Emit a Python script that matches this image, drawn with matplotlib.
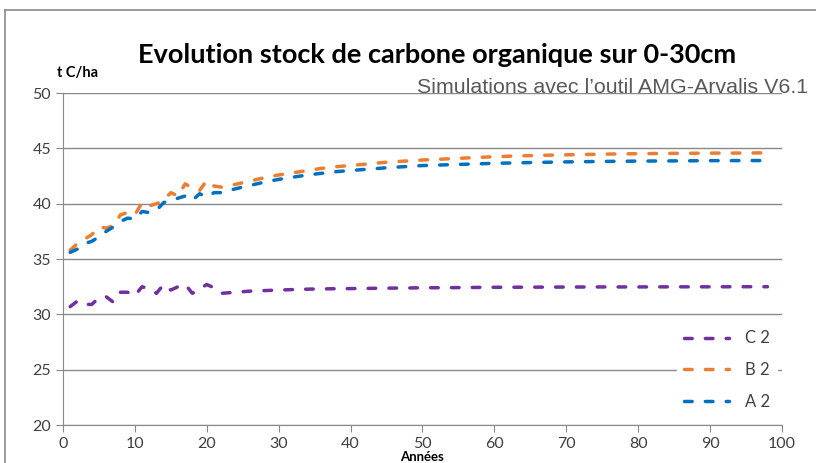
import matplotlib
matplotlib.use("Agg")
import matplotlib.pyplot as plt
from matplotlib.lines import Line2D

# years (annual for the first part, then sampled on the smooth curve)
annees = list(range(1, 22)) + [22, 24, 26, 28, 30, 32, 34, 36, 38, 40, 45, 50,
                                55, 60, 65, 70, 75, 80, 85, 90, 95, 98]

a2 = [35.6, 35.9, 36.4, 36.6, 37.0, 37.5, 37.9, 38.4, 38.7, 38.6, 39.3,
      39.2, 39.4, 40.1, 40.3, 40.5, 40.7, 40.3, 40.9, 40.6, 41.0,
      41.0, 41.35, 41.65, 41.95, 42.2, 42.4, 42.6, 42.75, 42.9, 43.0, 43.25,
      43.45, 43.55, 43.65, 43.72, 43.78, 43.82, 43.85, 43.87, 43.89, 43.9, 43.9]

b2 = [35.8, 36.4, 36.8, 37.2, 37.9, 37.8, 38.0, 39.0, 39.2, 39.0, 40.1,
      39.8, 40.0, 40.3, 41.0, 40.7, 41.8, 41.4, 41.2, 42.1, 41.6,
      41.5, 41.75, 42.05, 42.35, 42.6, 42.8, 43.0, 43.2, 43.35, 43.45, 43.75,
      43.95, 44.1, 44.25, 44.35, 44.42, 44.48, 44.52, 44.55, 44.57, 44.58, 44.6]

c2 = [30.7, 31.2, 30.9, 30.9, 31.5, 31.6, 31.1, 32.0, 32.0, 31.7, 32.5,
      32.3, 31.9, 32.7, 32.2, 32.5, 32.7, 31.9, 32.3, 32.7, 32.4,
      31.9, 32.0, 32.1, 32.15, 32.2, 32.24, 32.28, 32.3, 32.32, 32.33, 32.37,
      32.4, 32.42, 32.45, 32.46, 32.47, 32.48, 32.48, 32.49, 32.49, 32.5, 32.5]

series = [("C 2", c2, "#7030A0"), ("B 2", b2, "#ED7D31"), ("A 2", a2, "#0070C0")]

grey = "#898989"
txt = "#404040"
police = ["Lato", "DejaVu Sans"]
tirets = (2.2, 3.8)

fig = plt.figure(figsize=(8.16, 4.63), dpi=100)
ax = fig.add_axes([0.0772, 0.082, 0.881, 0.717])

for nom, val, col in series:
    ax.plot(annees, val, color=col, lw=2.5, dashes=tirets,
            dash_capstyle="round", label=nom)

ax.set_xlim(0, 100)
ax.set_ylim(20, 50)
ax.set_xticks(range(0, 101, 10))
ax.set_yticks(range(20, 51, 5))
ax.grid(axis="y", color=grey, lw=1)
ax.set_axisbelow(True)
for s in ["top", "right"]:
    ax.spines[s].set_visible(False)
for s in ["left", "bottom"]:
    ax.spines[s].set_color(grey)
ax.tick_params(color=grey, length=5, labelcolor=txt, labelsize=11.5)
for lab in ax.get_xticklabels() + ax.get_yticklabels():
    lab.set_family(police)

handles = [Line2D([], [], color=col, lw=2.5, dashes=tirets,
                  dash_capstyle="round") for _, _, col in series]
leg = ax.legend(handles, [s[0] for s in series], loc="lower right",
                bbox_to_anchor=(1.005, 0.0), frameon=True, framealpha=1,
                edgecolor="white", facecolor="white", handlelength=2.7,
                handletextpad=1.0, labelspacing=0.95,
                prop={"family": police, "size": 12})
for t in leg.get_texts():
    t.set_color(txt)

fig.text(0.536, 0.881, "Evolution stock de carbone organique sur 0-30cm",
         ha="center", va="center", fontsize=19.5, fontweight="bold",
         family=police, color="black")
fig.text(0.99, 0.812, "Simulations avec l\u2019outil AMG-Arvalis V6.1",
         ha="right", va="center", fontsize=15.4,
         family=["Liberation Sans", "DejaVu Sans"], color="#595959")
fig.text(0.095, 0.842, "t C/ha", ha="center", va="center", fontsize=10.5,
         fontweight="bold", family=police, color="black")
fig.text(0.517, 0.0, "Ann\u00e9es", ha="center", va="bottom", fontsize=9.5,
         fontweight="bold", family=police, color="black")

# outer chart frame (left and top edges visible)
fig.add_artist(Line2D([0.006, 0.006], [0.0, 0.978], color=grey, lw=1.2,
                      transform=fig.transFigure))
fig.add_artist(Line2D([0.006, 1.0], [0.978, 0.978], color=grey, lw=1.2,
                      transform=fig.transFigure))

fig.savefig("out.png", dpi=100)
